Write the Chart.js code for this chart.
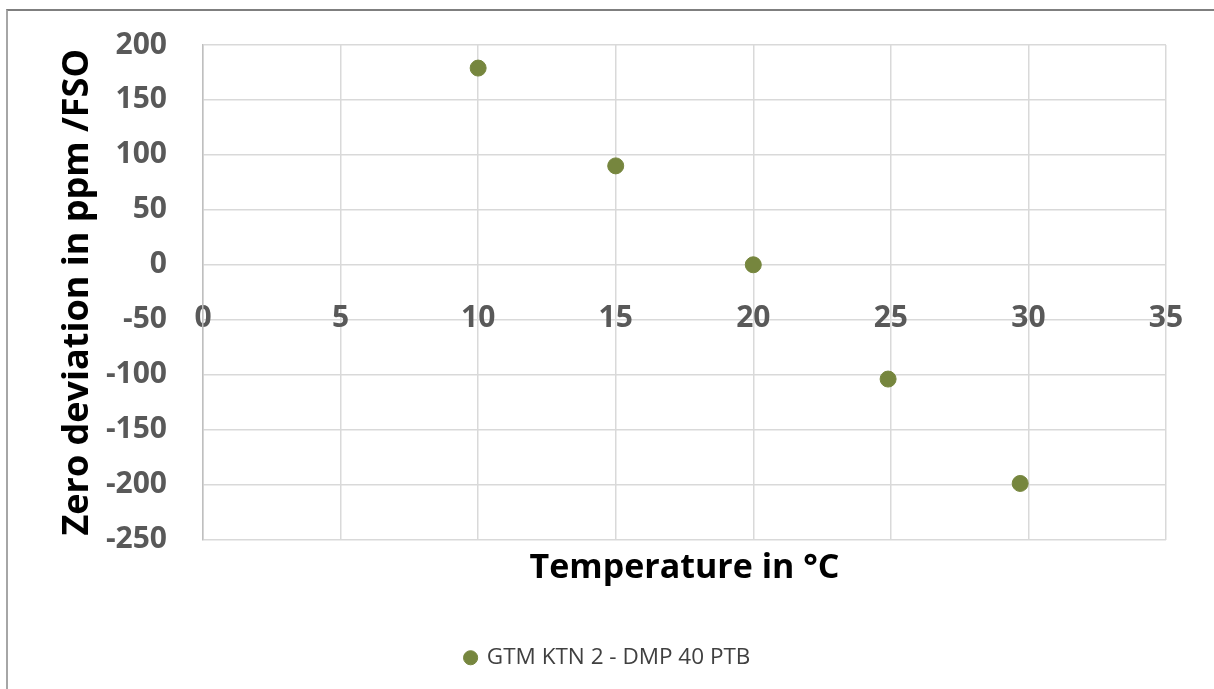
<!DOCTYPE html>
<html>
<head>
<meta charset="utf-8">
<script src="https://cdn.jsdelivr.net/npm/chart.js@4.4.0/dist/chart.umd.min.js"></script>
<style>
  html, body { margin: 0; padding: 0; background: #fff; }
  #wrap { position: relative; width: 1214px; height: 689px; overflow: hidden; }
  #frame { position: absolute; left: 6px; top: 9px; width: 1300px; height: 800px;
           border-top: 2px solid #7f7f7f; border-left: 2px solid #a6a6a6; }
  canvas { position: absolute; left: 0; top: 0; }
</style>
</head>
<body>
<div id="wrap">
  <div id="frame"></div>
  <canvas id="myChart" width="1214" height="689"></canvas>
</div>
<script>
// Datos
var seriesName = "GTM KTN 2 - DMP 40 PTB";
var x_vals = [10, 15, 20, 24.9, 29.7];
var y_vals = [179, 90, 0, -104, -199];
var xTicks = [0, 5, 10, 15, 20, 25, 30, 35];
var yTicks = [-250, -200, -150, -100, -50, 0, 50, 100, 150, 200];

var xTitle = "Temperature in °C";
var yTitle = "Zero deviation in ppm /FSO";

var pointColor = "rgb(118, 134, 62)";
var gridColor = "#d9d9d9";
var fontFamily = "'Open Sans', 'DejaVu Sans', sans-serif";

var points = x_vals.map(function (x, i) { return { x: x, y: y_vals[i] }; });

var ctx = document.getElementById("myChart").getContext("2d");
var chart = new Chart(ctx, {
    type: "scatter",
    data: {
        datasets: [
            {
                label: seriesName,
                data: points,
                backgroundColor: pointColor,
                borderColor: pointColor,
                pointRadius: 8,
                pointHoverRadius: 8,
                xAxisID: "x",
                yAxisID: "y",
            },
        ],
    },
    options: {
        responsive: false,
        animation: false,
        layout: {
            padding: { left: 50, top: 45, right: 48, bottom: 10 },
        },
        plugins: {
            tooltip: { enabled: false },
            legend: {
                position: "bottom",
                labels: {
                    usePointStyle: true,
                    pointStyle: "circle",
                    boxWidth: 10,
                    boxHeight: 10,
                    padding: 12,
                    color: "#404040",
                    font: { family: fontFamily, size: 22.5 },
                },
            },
        },
        scales: {
            // eje inferior: solo rejilla y título
            x: {
                type: "linear",
                position: "bottom",
                min: 0,
                max: 35,
                afterBuildTicks: function (scale) {
                    scale.ticks = xTicks.map(function (v) { return { value: v }; });
                },
                ticks: { display: false },
                grid: { color: gridColor, lineWidth: 1.5, drawTicks: false },
                border: { display: false },
                title: {
                    display: true,
                    text: xTitle,
                    color: "#000",
                    font: { family: fontFamily, size: 34, weight: "bold" },
                    padding: { top: 0, bottom: 46 },
                },
                afterFit: function (scale) {
                    scale.height = 95;
                    scale.paddingLeft = scale.paddingRight = 0;
                },
            },
            // etiquetas del eje X colocadas en y = 0, como en Excel
            x2: {
                type: "linear",
                position: { y: 0 },
                min: 0,
                max: 35,
                afterBuildTicks: function (scale) {
                    scale.ticks = xTicks.map(function (v) { return { value: v }; });
                },
                ticks: {
                    color: "#595959",
                    padding: 36,
                    maxRotation: 0,
                    font: { family: fontFamily, size: 30, weight: "bold" },
                },
                grid: { display: false, drawTicks: false },
                border: { display: false },
                afterFit: function (scale) {
                    scale.paddingTop = scale.paddingBottom = 0;
                    scale.paddingLeft = scale.paddingRight = 0;
                },
            },
            y: {
                min: -250,
                max: 200,
                afterBuildTicks: function (scale) {
                    scale.ticks = yTicks.map(function (v) { return { value: v }; });
                },
                ticks: {
                    color: "#595959",
                    padding: 36,
                    font: { family: fontFamily, size: 30, weight: "bold" },
                },
                grid: { color: gridColor, lineWidth: 1.5, drawTicks: false },
                border: { display: true, color: "#bfbfbf", width: 1.5 },
                title: {
                    display: true,
                    text: yTitle,
                    color: "#000",
                    font: { family: fontFamily, size: 36, weight: "bold" },
                    padding: { top: 6, bottom: 0 },
                },
                afterFit: function (scale) {
                    scale.width = 153;
                    scale.paddingTop = scale.paddingBottom = 0;
                },
            },
        },
    },
});
</script>
</body>
</html>
